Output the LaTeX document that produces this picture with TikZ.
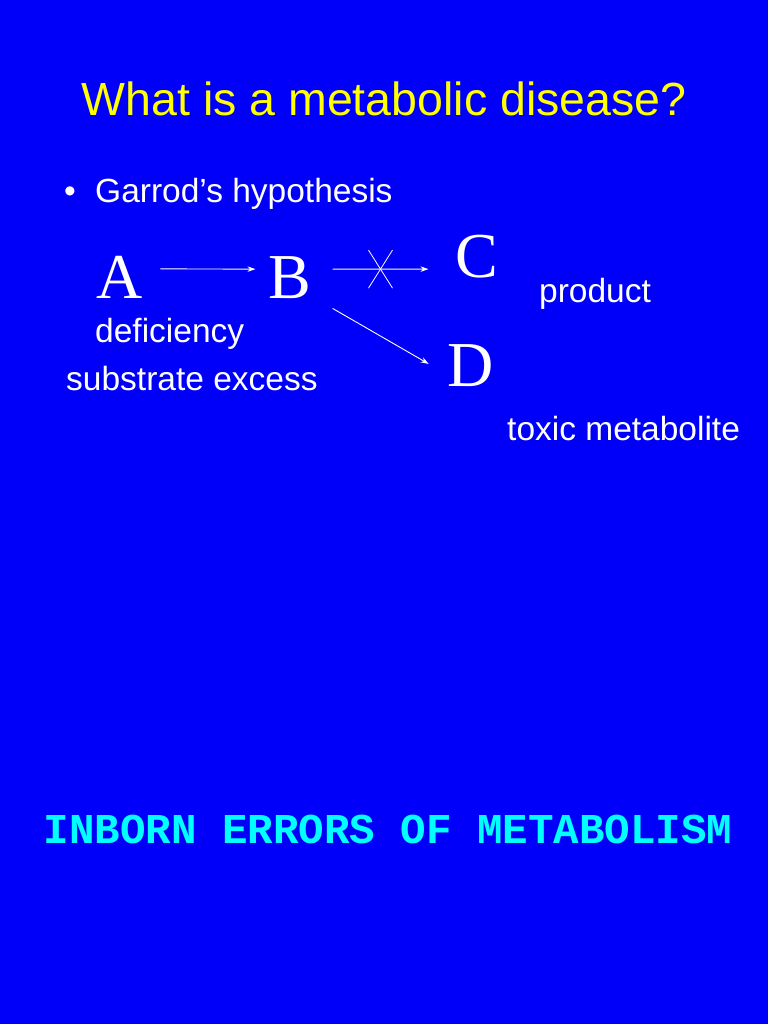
\documentclass[tikz,border=0pt]{standalone}
\usepackage{fontspec}
\setmainfont{Liberation Sans}
\newfontfamily\timesfont{Liberation Serif}
\newfontfamily\courierfont{Liberation Mono}
\usepackage{tikz}
\usetikzlibrary{arrows,arrows.meta,positioning}
\usepackage{xcolor}
\definecolor{slideblue}{RGB}{0,0,250}
\definecolor{slideyellow}{RGB}{255,255,0}
\definecolor{slidecyan}{RGB}{0,255,255}
\tikzstyle{arrow} = [line width=0.9pt,->,>={Stealth[length=8pt,width=5.5pt]},color=white]
\tikzstyle{letter} = [inner xsep=15pt, inner ysep=0pt, anchor=base, text=white, font=\timesfont\fontsize{64}{70}\selectfont]
\tikzstyle{label} = [inner sep=0pt, anchor=base west, text=white, font=\fontsize{33.5}{38}\selectfont]

\begin{document}
\begin{tikzpicture}[x=1pt, y=-1pt]
% Background
\fill[slideblue] (0,0) rectangle (768,1024);
\useasboundingbox (0,0) rectangle (768,1024);

% Title and bullet
\node[anchor=base, inner sep=0pt, text=slideyellow, font=\fontsize{46.5}{52}\selectfont] (title) at (384,116) {What is a metabolic disease?};
\node[label] (bullet) at (64,203) {•};
\node[label] (garrod) at (95,203) {Garrod’s hypothesis};

% Pathway letters
\node[letter] (A) at (120,298) {A};
\node[letter] (B) at (290,298) {B};
\node[letter] (C) at (477,277) {C};
\node[letter] (D) at (471,386) {D};

% Labels
\node[label] (product) at (539,302) {product};
\node[label] (deficiency) at (95,342) {deficiency};
\node[label] (excess) at (66,390) {substrate excess};
\node[label] (toxic) at (507,440) {toxic metabolite};

% Arrows
\draw[arrow] ([shift={(2,-8)}]A.east) -- ([shift={(2,-8)}]B.west);
\draw[arrow] ([shift={(6,-8)}]B.east) -- ([shift={(-12,13)}]C.west)
  coordinate[pos=0.5] (block);
\draw[arrow] ([shift={(6,10)}]B.south east) -- ([shift={(-4,20)}]D.north west);

% Blocked step
\draw[white, line width=0.8pt] (block) ++(-12,-19) -- ++(24,38);
\draw[white, line width=0.8pt] (block) ++(12,-19) -- ++(-24,38);

% Bottom line
\node[anchor=base, inner sep=0pt, text=slidecyan, font=\courierfont\bfseries\fontsize{42.5}{48}\selectfont] (inborn) at (388,843) {INBORN ERRORS OF METABOLISM};
\end{tikzpicture}
\end{document}
